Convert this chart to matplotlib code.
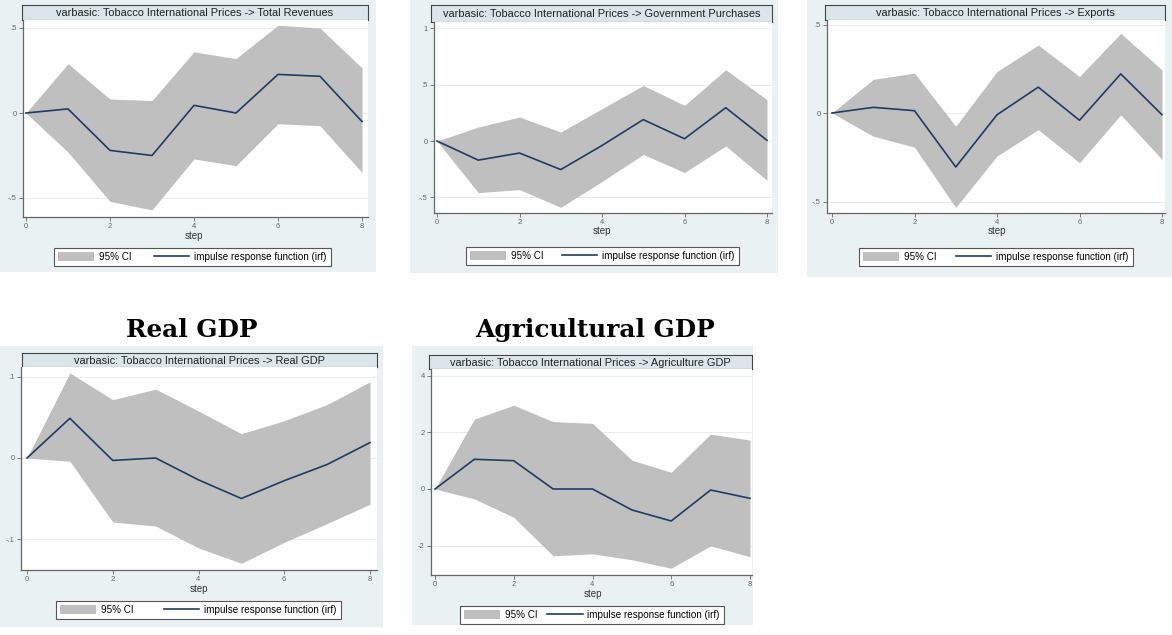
import matplotlib.pyplot as plt
from matplotlib.patches import Rectangle, Patch
from matplotlib.lines import Line2D

# impulse response data (steps 0..8)
steps = [0, 1, 2, 3, 4, 5, 6, 7, 8]

rev_irf = [0, 0.024, -0.22, -0.25, 0.045, 0.0, 0.227, 0.216, -0.05]
rev_lo = [0, -0.23, -0.52, -0.57, -0.27, -0.31, -0.063, -0.075, -0.35]
rev_hi = [0, 0.29, 0.082, 0.073, 0.36, 0.32, 0.516, 0.50, 0.265]

gov_irf = [0, -0.17, -0.107, -0.254, -0.04, 0.19, 0.02, 0.296, 0.006]
gov_lo = [0, -0.459, -0.432, -0.59, -0.36, -0.12, -0.28, -0.044, -0.35]
gov_hi = [0, 0.124, 0.213, 0.08, 0.287, 0.494, 0.317, 0.633, 0.367]

exp_irf = [0, 0.032, 0.013, -0.305, -0.01, 0.146, -0.041, 0.221, -0.01]
exp_lo = [0, -0.131, -0.193, -0.534, -0.243, -0.094, -0.281, -0.01, -0.262]
exp_hi = [0, 0.19, 0.225, -0.075, 0.234, 0.384, 0.206, 0.45, 0.243]

gdp_irf = [0, 0.049, -0.003, 0.0, -0.027, -0.05, -0.028, -0.008, 0.019]
gdp_lo = [0, -0.004, -0.079, -0.084, -0.111, -0.13, -0.104, -0.081, -0.057]
gdp_hi = [0, 0.105, 0.072, 0.085, 0.058, 0.03, 0.046, 0.066, 0.094]

agr_irf = [0, 1.05, 1.0, 0.0, 0.0, -0.74, -1.13, -0.035, -0.33]
agr_lo = [0, -0.35, -1.0, -2.36, -2.29, -2.5, -2.8, -2.01, -2.39]
agr_hi = [0, 2.47, 2.96, 2.38, 2.32, 1.02, 0.59, 1.94, 1.73]

titles = ["varbasic: Tobacco International Prices -> Total Revenues",
          "varbasic: Tobacco International Prices -> Government Purchases",
          "varbasic: Tobacco International Prices -> Exports",
          "varbasic: Tobacco International Prices -> Real GDP",
          "varbasic: Tobacco International Prices -> Agriculture GDP"]

W, H = 1172, 635
BAND = '#bfbfbf'
LINE = '#1f3c64'
BG = '#e9f1f3'
TBOX = '#dae6ea'

fig = plt.figure(figsize=(W / 100, H / 100), dpi=100)
fig.patch.set_facecolor('white')


def frac(x0, y0, x1, y1):
    return [x0 / W, 1 - y1 / H, (x1 - x0) / W, (y1 - y0) / H]


def panel(bg, tbox, plot, x0px, x8px, y0px, yunit, yt, ytl, leg, steppx, title,
          irf, lo, hi, colsp=2.0):
    # panel background
    fig.add_artist(Rectangle((bg[0] / W, 1 - bg[3] / H), (bg[2] - bg[0]) / W,
                             (bg[3] - bg[1]) / H, transform=fig.transFigure,
                             facecolor=BG, edgecolor='none', zorder=0))
    # title box
    tb = fig.add_axes(frac(*tbox))
    tb.set_facecolor(TBOX)
    tb.set_xticks([])
    tb.set_yticks([])
    for s in tb.spines.values():
        s.set_color('#444444')
        s.set_linewidth(0.8)
    tb.text(0.5, 0.45, title, ha='center', va='center', fontsize=7.9,
            family='Liberation Sans', color='#222222', transform=tb.transAxes)

    ax = fig.add_axes(frac(*plot))
    px_step = (x8px - x0px) / 8
    ax.set_xlim((plot[0] - x0px) / px_step, 8 + (plot[2] - x8px) / px_step)
    ax.set_ylim((y0px - plot[3]) / yunit, (y0px - plot[1]) / yunit)
    ax.fill_between(steps, lo, hi, color=BAND, lw=0, zorder=2)
    ax.plot(steps, irf, color=LINE, lw=1.2, zorder=3)
    ax.set_xticks([0, 2, 4, 6, 8])
    ax.set_yticks(yt)
    ax.set_yticklabels(ytl)
    ax.grid(axis='y', color='#e6eef0', lw=0.8, zorder=1)
    ax.set_axisbelow(True)
    for s in ['top', 'right']:
        ax.spines[s].set_visible(False)
    for s in ['left', 'bottom']:
        ax.spines[s].set_color('#666666')
        ax.spines[s].set_linewidth(0.9)
    ax.tick_params(direction='out', length=3, width=0.6, color='#666666',
                   labelsize=5.5, labelcolor='#666666', pad=1.5)
    for lab in ax.get_xticklabels() + ax.get_yticklabels():
        lab.set_family('Liberation Sans')
    fig.text(((x0px + x8px) / 2) / W, 1 - steppx / H, 'step', ha='center',
             va='center', fontsize=7, family='Liberation Sans',
             color='#333333')

    handles = [Patch(facecolor=BAND, edgecolor='none'),
               Line2D([], [], color=LINE, lw=1.2)]
    cx = (leg[0] + leg[2]) / 2 / W
    cy = 1 - (leg[1] + leg[3]) / 2 / H
    lg = fig.legend(handles, ['95% CI', 'impulse response function (irf)'],
                    ncol=2, loc='center', bbox_to_anchor=(cx, cy),
                    fancybox=False, edgecolor='#555555', framealpha=1,
                    handlelength=3.6, handleheight=1.0, handletextpad=0.5,
                    borderpad=0.45, columnspacing=colsp,
                    prop={'family': 'Liberation Sans', 'size': 7.1})
    lg.get_frame().set_linewidth(0.8)
    return ax


panel((0, 0, 376, 272), (22, 5, 368, 20), (23, 20, 368, 217), 26, 362, 113, 170,
      [-0.5, 0, 0.5], ['-.5', '0', '.5'], (55, 247, 330, 267), 236,
      titles[0], rev_irf, rev_lo, rev_hi, colsp=2.3)

panel((410, 0, 778, 273), (431, 5, 772, 22), (434, 22, 772, 213), 437, 767, 141, 112.5,
      [-0.5, 0, 0.5, 1], ['-.5', '0', '.5', '1'], (467, 245, 738, 267), 231,
      titles[1], gov_irf, gov_lo, gov_hi, colsp=1.9)

panel((807, 0, 1172, 277), (825, 5, 1165, 20), (827, 20, 1165, 213), 832, 1162, 113, 177,
      [-0.5, 0, 0.5], ['-.5', '0', '.5'], (860, 247, 1132, 267), 231,
      titles[2], exp_irf, exp_lo, exp_hi, colsp=2.0)

panel((0, 346, 383, 627), (22, 353, 377, 367), (21, 367, 377, 570), 27, 370, 458, 810,
      [-0.1, 0, 0.1], ['-.1', '0', '.1'], (57, 601, 340, 619), 589,
      titles[3], gdp_irf, gdp_lo, gdp_hi, colsp=3.1)

panel((412, 346, 753, 625), (429, 355, 752, 369), (431, 369, 752, 575), 435, 750, 489, 28.3,
      [-2, 0, 2, 4], ['-2', '0', '2', '4'], (462, 606, 722, 624), 594,
      titles[4], agr_irf, agr_lo, agr_hi, colsp=1.0)

fig.text(192 / W, 1 - 330 / H, 'Real GDP', ha='center', va='center',
         fontsize=17.8, fontweight='bold', family='DejaVu Serif')
fig.text(595 / W, 1 - 330 / H, 'Agricultural GDP', ha='center', va='center',
         fontsize=17.8, fontweight='bold', family='DejaVu Serif')

fig.savefig('out.png', dpi=100, facecolor='white')
